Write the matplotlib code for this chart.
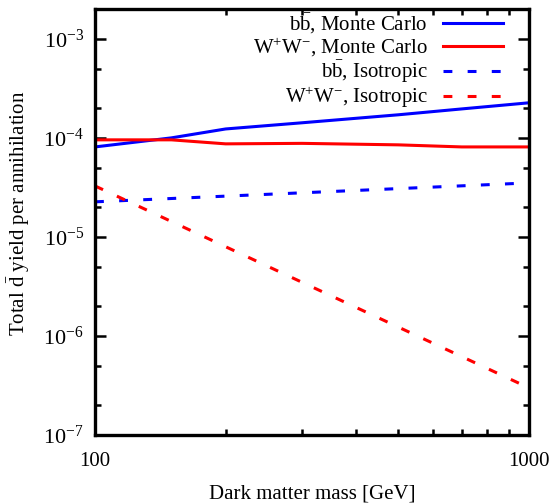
import matplotlib
matplotlib.use("Agg")
import matplotlib.pyplot as plt
from matplotlib.ticker import LogLocator, LogFormatterMathtext, NullFormatter, FixedLocator

plt.rcParams["font.family"] = ["Liberation Serif", "DejaVu Serif"]
plt.rcParams["mathtext.fontset"] = "custom"
plt.rcParams["mathtext.rm"] = "Liberation Serif"
plt.rcParams["mathtext.it"] = "Liberation Serif:italic"
plt.rcParams["mathtext.bf"] = "Liberation Serif:bold"

# Dark matter mass [GeV]
mass_mc = [100, 150, 200, 300, 500, 700, 1000]
bb_mc = [8.1e-5, 1.0e-4, 1.23e-4, 1.42e-4, 1.71e-4, 1.96e-4, 2.26e-4]
ww_mc = [9.55e-5, 9.55e-5, 8.7e-5, 8.8e-5, 8.5e-5, 8.1e-5, 8.1e-5]

mass_iso = [100, 1000]
bb_iso = [2.26e-5, 3.51e-5]
ww_iso = [3.27e-5, 2.99e-7]

labels = [r"b$\bar{\rm b}$, Monte Carlo", r"W$^{+}$W$^{-}$, Monte Carlo",
          r"b$\bar{\rm b}$, Isotropic", r"W$^{+}$W$^{-}$, Isotropic"]

fig = plt.figure(figsize=(5.57, 5.04), dpi=100)
ax = fig.add_axes([95 / 557, 1 - 435 / 504, 434 / 557, 426 / 504])

lw = 2.2
dash = (0, (2.9, 5.0))
ax.plot(mass_mc, bb_mc, color="#0000ff", lw=lw, label=labels[0])
ax.plot(mass_mc, ww_mc, color="#ff0000", lw=lw, label=labels[1])
ax.plot(mass_iso, bb_iso, color="#0000ff", lw=lw, ls=dash, label=labels[2])
ax.plot(mass_iso, ww_iso, color="#ff0000", lw=lw, ls=dash, label=labels[3])

ax.set_xscale("log")
ax.set_yscale("log")
ax.set_xlim(100, 1000)
ax.set_ylim(1e-7, 2e-3)

ax.xaxis.set_major_locator(FixedLocator([100, 1000]))
ax.set_xticklabels(["100", "1000"])
ax.xaxis.set_minor_locator(FixedLocator(range(200, 1000, 100)))
ax.xaxis.set_minor_formatter(NullFormatter())

ax.yaxis.set_major_locator(LogLocator(base=10, numticks=10))
ax.yaxis.set_major_formatter(LogFormatterMathtext())
ax.yaxis.set_minor_locator(LogLocator(base=10, subs=(2.0, 5.0), numticks=10))
ax.yaxis.set_minor_formatter(NullFormatter())

ax.tick_params(which="both", direction="in", top=True, right=True, width=1.8)
ax.tick_params(which="major", length=8, labelsize=15)
ax.tick_params(axis="y", which="major", labelsize=16)
ax.tick_params(which="minor", length=4)
ax.tick_params(axis="x", which="major", pad=12)
ax.tick_params(axis="y", which="major", pad=8)

for s in ax.spines.values():
    s.set_linewidth(2.4)

ax.set_xlabel("Dark matter mass [GeV]", fontsize=15, labelpad=10)
ax.set_ylabel(r"Total $\bar{\rm d}$ yield per annihilation", fontsize=15)
ax.yaxis.set_label_coords(-0.145, 0.52)

ax.legend(loc="upper right", bbox_to_anchor=(0.952, 1.006), frameon=False,
          markerfirst=False, fontsize=15, handlelength=2.9, handletextpad=0.7,
          labelspacing=0.0, borderaxespad=0.0, borderpad=0.25)

fig.savefig("out.png", dpi=100)
